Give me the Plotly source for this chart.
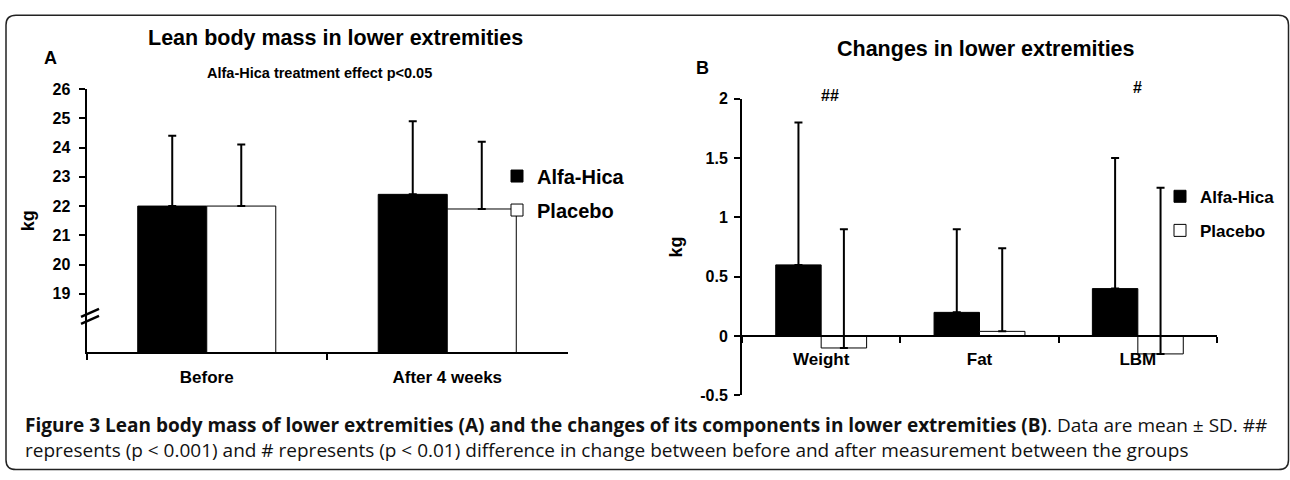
import plotly.graph_objects as go

# ---------------- data ----------------
timepoints = ["Before", "After 4 weeks"]
lbm_alfa = [22.0, 22.4]
lbm_alfa_sd = [2.4, 2.5]
lbm_placebo = [22.0, 21.9]
lbm_placebo_sd = [2.1, 2.3]
left_ticks = [19, 20, 21, 22, 23, 24, 25, 26]

components = ["Weight", "Fat", "LBM"]
chg_alfa = [0.6, 0.2, 0.4]
chg_alfa_sd = [1.2, 0.7, 1.1]
chg_placebo = [-0.1, 0.04, -0.15]
chg_placebo_sd = [1.0, 0.7, 1.4]
right_ticks = [-0.5, 0, 0.5, 1, 1.5, 2]
right_ticktext = ["-0.5", "0", "0.5", "1", "1.5", "2"]

series_names = ["Alfa-Hica", "Placebo"]

# ---------------- layout helpers ----------------
W, H = 1290, 480
def px(x):
    return x / W
def py(y):
    return 1 - y / H

ARIAL = "Liberation Sans, Arial, sans-serif"
BOLD = dict(family=ARIAL, color="black", weight="bold")

def err(sd):
    return dict(type="data", symmetric=False, array=sd, arrayminus=[0] * len(sd),
                color="black", thickness=2, width=4)

fig = go.Figure()

# Panel A
fig.add_trace(go.Bar(x=timepoints, y=lbm_alfa, name=series_names[0], error_y=err(lbm_alfa_sd),
                     marker=dict(color="black", line=dict(color="black", width=1)),
                     xaxis="x", yaxis="y", legend="legend", legendgroup="a1"))
fig.add_trace(go.Bar(x=timepoints, y=lbm_placebo, name=series_names[1], error_y=err(lbm_placebo_sd),
                     marker=dict(color="white", line=dict(color="black", width=1)),
                     xaxis="x", yaxis="y", legend="legend", legendgroup="p1"))
# Panel B
fig.add_trace(go.Bar(x=components, y=chg_alfa, name=series_names[0], error_y=err(chg_alfa_sd),
                     marker=dict(color="black", line=dict(color="black", width=1)),
                     xaxis="x2", yaxis="y2", legend="legend2", legendgroup="a2"))
fig.add_trace(go.Bar(x=components, y=chg_placebo, name=series_names[1], error_y=err(chg_placebo_sd),
                     marker=dict(color="white", line=dict(color="black", width=1)),
                     xaxis="x2", yaxis="y2", legend="legend2", legendgroup="p2"))

axis_common = dict(showgrid=False, zeroline=False, showline=True, linecolor="black", linewidth=2,
                   ticks="outside", tickcolor="black", tickwidth=2, ticklen=6)

fig.update_layout(
    width=W, height=H,
    margin=dict(l=0, r=0, t=0, b=0),
    paper_bgcolor="white", plot_bgcolor="rgba(0,0,0,0)",
    barmode="group", bargap=0.426, bargroupgap=0,
    font=dict(family=ARIAL, color="black"),
    xaxis=dict(domain=[px(86.5), px(567.5)], anchor="y", type="category", tickson="boundaries",
               tickfont=dict(size=17, **BOLD), ticklabelstandoff=8, **axis_common),
    yaxis=dict(domain=[py(357), py(84)], anchor="x", range=[17, 26], tickvals=left_ticks,
               tickfont=dict(size=16, **BOLD), ticklabelstandoff=5,
               title=dict(text="kg", font=dict(size=18, **BOLD), standoff=13), **axis_common),
    xaxis2=dict(domain=[px(742), px(1217)], anchor="free", position=py(340), type="category",
                tickson="boundaries", tickfont=dict(size=17, **BOLD), ticklabelstandoff=8, **axis_common),
    yaxis2=dict(domain=[py(401.7), py(94)], anchor="x2", range=[-0.5, 2], tickvals=right_ticks,
                ticktext=right_ticktext, tickfont=dict(size=16, **BOLD), ticklabelstandoff=3,
                title=dict(text="kg", font=dict(size=18, **BOLD), standoff=13), **axis_common),
    legend=dict(x=px(497), y=py(154), xanchor="left", yanchor="top", bgcolor="rgba(0,0,0,0)",
                font=dict(size=20, **BOLD), tracegroupgap=5, itemwidth=30),
    legend2=dict(x=px(1160), y=py(177), xanchor="left", yanchor="top", bgcolor="rgba(0,0,0,0)",
                 font=dict(size=17, **BOLD), tracegroupgap=9, itemwidth=30),
)

ann = [
    dict(text="Lean body mass in lower extremities", x=px(335), y=py(31), font=dict(size=21.5, **BOLD)),
    dict(text="A", x=px(50), y=py(52), font=dict(size=18, **BOLD)),
    dict(text="Alfa-Hica treatment effect p<0.05", x=px(319), y=py(67), font=dict(size=14.5, **BOLD)),
    dict(text="Changes in lower extremities", x=px(986), y=py(43), font=dict(size=21.5, **BOLD)),
    dict(text="B", x=px(702), y=py(62), font=dict(size=18, **BOLD)),
]
for a in ann:
    a.update(xref="paper", yref="paper", showarrow=False, xanchor="center", yanchor="middle")
    fig.add_annotation(**a)

# significance marks above the groups
fig.add_annotation(text="##", xref="x2", yref="paper", x=components[0], y=py(91), xshift=9,
                   yanchor="middle", showarrow=False, font=dict(size=16, **BOLD))
fig.add_annotation(text="#", xref="x2", yref="paper", x=components[2], y=py(82),
                   yanchor="middle", showarrow=False, font=dict(size=16, **BOLD))

# caption
CAP = "Open Sans, Noto Sans, sans-serif"
fig.add_annotation(
    text="<b>Figure 3 Lean body mass of lower extremities (A) and the changes of its components in lower extremities (B)</b>. Data are mean ± SD. ##"
         "<br>represents (p < 0.001) and # represents (p < 0.01) difference in change between before and after measurement between the groups",
    xref="paper", yref="paper", x=px(23), y=py(445), xanchor="left", yanchor="middle", align="left",
    showarrow=False, font=dict(family=CAP, size=19, color="#111"))

# axis break mark on panel A
for y0, y1 in [(18.21, 18.49), (17.97, 18.25)]:
    fig.add_shape(type="line", xref="x domain", yref="y", x0=-0.0114, x1=0.026, y0=y0, y1=y1,
                  line=dict(color="black", width=2.5))

# rounded frame
x0, x1, y0, y1, r = 6, 1288.5, 7.5, 478.5, 10
rx, ry = r / W, r / H
path = (f"M {px(x0)+rx},{py(y0)} L {px(x1)-rx},{py(y0)} Q {px(x1)},{py(y0)} {px(x1)},{py(y0)-ry} "
        f"L {px(x1)},{py(y1)+ry} Q {px(x1)},{py(y1)} {px(x1)-rx},{py(y1)} "
        f"L {px(x0)+rx},{py(y1)} Q {px(x0)},{py(y1)} {px(x0)},{py(y1)+ry} "
        f"L {px(x0)},{py(y0)-ry} Q {px(x0)},{py(y0)} {px(x0)+rx},{py(y0)} Z")
fig.add_shape(type="path", xref="paper", yref="paper", path=path, line=dict(color="#222", width=1.5))

fig.write_html(
    "out.html",
    config={"displayModeBar": False},
    post_script=("document.body.style.margin='0';document.body.style.overflow='hidden';"
                 "var d=document.getElementById('{plot_id}');d.style.position='fixed';"
                 "d.style.left='0px';d.style.top='0px';"),
)
